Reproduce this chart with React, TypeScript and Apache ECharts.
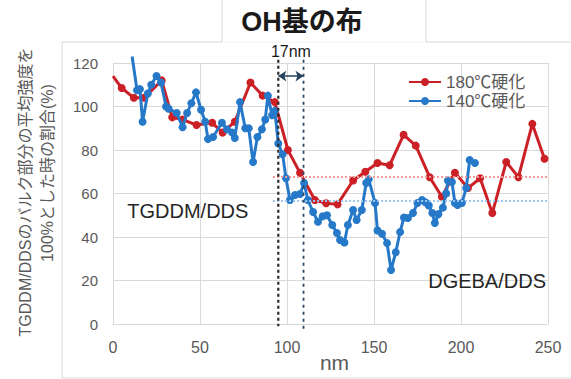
import React, { useEffect, useRef } from "react";
import * as echarts from "echarts";

const xTicks = [0, 50, 100, 150, 200, 250];
const yTicks = [0, 20, 40, 60, 80, 100, 120];

const seriesNames = ["180℃硬化", "140℃硬化"];

const red180: [number, number][] = [
  [0, 114], [5, 108.5], [12, 104], [18, 104], [28, 112], [34, 95], [40, 94],
  [48, 91.5], [57, 92.5], [63, 88], [70, 93], [79, 111], [86, 105], [93, 102],
  [100.5, 80], [107.5, 69.5], [116, 57], [122.5, 55.5], [129, 55], [138, 66],
  [145, 70], [152, 74], [159, 73], [167, 87], [174, 82], [182, 67.5], [189, 58.5],
  [196.5, 69.5], [204, 62.5], [211, 67], [218, 51], [226, 74.5], [233, 67.5],
  [241, 92], [248, 76],
];

const blue140: [number, number][] = [
  [11, 123], [13.8, 107.5], [15.5, 108], [17, 93], [20, 106], [22, 110], [25, 114],
  [27.6, 111], [30.5, 100], [32, 99], [36.6, 97], [40, 90.5], [42.6, 97], [45, 101.5],
  [47.7, 106.5], [50.6, 98.5], [53, 93], [54.6, 85], [57.5, 86], [62.6, 92.5],
  [65.5, 89.5], [68.5, 88], [70, 85.5], [73, 102], [76, 90], [78, 90], [80.5, 74.5],
  [83, 86], [85.6, 89.5], [87.5, 94], [89, 105], [91.4, 96], [93, 98], [95, 83],
  [97.5, 78], [99.4, 67], [101.7, 57], [104.6, 59.3], [107.5, 59.8], [109.8, 64.8],
  [112, 57], [115, 51.5], [117.8, 47], [120.5, 49.5], [123, 50], [126, 45.5],
  [128.7, 41.8], [130.5, 38.6], [133, 37.5], [135, 45.5], [138, 52.4], [140, 47.8],
  [143, 52.4], [145.5, 64.8], [147, 66.5], [150.6, 55.6], [152, 43], [154.6, 41.5],
  [157.5, 37.2], [159.8, 24.8], [162.5, 33], [165, 42.3], [167.2, 49], [169.5, 48.7],
  [172.4, 51], [175, 55.6], [177.6, 57], [179.5, 56], [181.5, 54.5], [183.5, 51],
  [185, 46.4], [187, 50.5], [189.6, 53.5], [191.5, 60], [192.5, 66], [194.8, 65.3],
  [196.5, 55.6], [198, 54.7], [200.5, 55.6], [203, 62.5], [205, 75.4], [208, 74],
];

const redMean = 67.5;
const blueMean = 56.7;
const meanStart = 92;
const boundaryA = 95;
const boundaryB = 109.5;
const arrowLevel = 114;

const titleText = "OH基の布";
const yLabel1 = "TGDDM/DDSのバルク部分の平均強度を";
const yLabel2 = "100%とした時の割合(%)";
const xName = "nm";
const widthLabel = "17nm";
const leftMaterial = "TGDDM/DDS";
const rightMaterial = "DGEBA/DDS";

export default function App() {
  const ref = useRef<HTMLDivElement>(null);
  useEffect(() => {
    const chart = echarts.init(ref.current!, null, { renderer: "svg" });
    const FONT = "'Liberation Sans', 'Noto Sans CJK JP', sans-serif";
    const RED = "#cc2027";
    const BLUE = "#2679c9";
    const GRAY = "#595959";
    const GRID = "#d9d9d9";

    chart.setOption({
      animation: false,
      backgroundColor: "#ffffff",
      textStyle: { fontFamily: FONT },
      grid: {
        left: 113,
        right: 23,
        top: 63,
        bottom: 55,
        containLabel: false,
        outerBoundsMode: "none",
      },
      legend: {
        orient: "vertical",
        left: 408,
        top: 73,
        padding: 0,
        itemGap: 1,
        itemWidth: 32,
        itemHeight: 10,
        data: seriesNames,
        textStyle: { fontSize: 17, color: GRAY, fontFamily: FONT, lineHeight: 18 },
      },
      xAxis: {
        type: "value",
        min: xTicks[0],
        max: xTicks[xTicks.length - 1],
        interval: 50,
        axisLine: { show: true, lineStyle: { color: GRID, width: 1 } },
        axisTick: { show: false },
        axisLabel: { fontSize: 16, color: GRAY, margin: 15, fontFamily: FONT },
        splitLine: { show: true, lineStyle: { color: GRID, width: 1 } },
      },
      yAxis: {
        type: "value",
        min: yTicks[0],
        max: yTicks[yTicks.length - 1],
        interval: 20,
        axisLine: { show: true, lineStyle: { color: GRID, width: 1 } },
        axisTick: { show: false },
        axisLabel: { fontSize: 15, color: GRAY, margin: 15, fontFamily: FONT },
        splitLine: { show: true, lineStyle: { color: GRID, width: 1 } },
      },
      series: [
        {
          name: seriesNames[0],
          type: "line",
          data: red180.map((d, i) => (i === 0 ? { value: d, symbol: "none" } : d)),
          symbol: "circle",
          symbolSize: 8,
          lineStyle: { color: RED, width: 3 },
          itemStyle: { color: RED },
          z: 2,
          markLine: {
            silent: true,
            symbol: "none",
            label: { show: false },
            lineStyle: { color: "#f19a9a", type: "dotted", width: 2 },
            data: [[{ coord: [meanStart, redMean] }, { coord: [xTicks[xTicks.length - 1], redMean] }]],
          },
        },
        {
          name: seriesNames[1],
          type: "line",
          clip: false,
          data: blue140.map((d, i) => (i === 0 ? { value: d, symbol: "none" } : d)),
          symbol: "circle",
          symbolSize: 8,
          lineStyle: { color: BLUE, width: 3 },
          itemStyle: { color: BLUE },
          z: 3,
          markLine: {
            silent: true,
            symbol: "none",
            label: { show: false },
            data: [
              [
                { coord: [meanStart, blueMean], lineStyle: { color: "#9cc7ec", type: "dotted", width: 2 } },
                { coord: [xTicks[xTicks.length - 1], blueMean] },
              ],
              [
                {
                  coord: [boundaryA, arrowLevel],
                  symbol: "arrow",
                  symbolSize: 8,
                  lineStyle: { color: "#24425a", type: "solid", width: 1.5 },
                },
                { coord: [boundaryB, arrowLevel], symbol: "arrow", symbolSize: 8 },
              ],
            ],
          },
        },
      ],
    });

    const px = (x: number, y: number) => chart.convertToPixel({ gridIndex: 0 }, [x, y]) as number[];
    const wPos = px((boundaryA + boundaryB) / 2, 125.5);
    const lPos = px(43, 52);
    const rPos = px(215, 20);
    const aTop = px(boundaryA, 121.5);
    const aBot = px(boundaryA, -1);
    const bTop = px(boundaryB, 121.5);
    const bBot = px(boundaryB, -2.5);
    const nameX = (px(xTicks[0], 0)[0] + px(xTicks[xTicks.length - 1], 0)[0]) / 2 + 4;

    chart.setOption({
      graphic: [
        {
          type: "rect",
          silent: true,
          z: -10,
          shape: { x: 62, y: 42, width: 520, height: 336 },
          style: { fill: "none", stroke: GRID, lineWidth: 1 },
        },
        {
          type: "line",
          silent: true,
          z: 5,
          shape: { x1: aTop[0], y1: aTop[1], x2: aBot[0], y2: aBot[1] },
          style: { stroke: "#2b2b2b", lineWidth: 2.2, lineDash: [3, 3] },
        },
        {
          type: "line",
          silent: true,
          z: 5,
          shape: { x1: bTop[0], y1: bTop[1], x2: bBot[0], y2: bBot[1] },
          style: { stroke: "#2a4660", lineWidth: 1.8, lineDash: [3, 4] },
        },
        {
          type: "rect",
          silent: true,
          z: 10,
          shape: { x: 222, y: -2, width: 204, height: 44.5 },
          style: { fill: "#ffffff", stroke: "none" },
        },
        {
          type: "polyline",
          silent: true,
          z: 11,
          shape: { points: [[222, 42], [222, -2]] },
          style: { stroke: GRID, lineWidth: 1, fill: "none" },
        },
        {
          type: "polyline",
          silent: true,
          z: 11,
          shape: { points: [[426, 42], [426, -2]] },
          style: { stroke: GRID, lineWidth: 1, fill: "none" },
        },
        {
          type: "text",
          z: 12,
          x: 302,
          y: 22,
          style: {
            text: titleText,
            font: `bold 27px ${FONT}`,
            fill: "#1a1a1a",
            textAlign: "center",
            textVerticalAlign: "middle",
          },
        },
        {
          type: "text",
          x: nameX,
          y: 362,
          style: {
            text: xName,
            font: `21px ${FONT}`,
            fill: GRAY,
            textAlign: "center",
            textVerticalAlign: "middle",
          },
        },
        {
          type: "text",
          x: 25,
          y: 192,
          rotation: Math.PI / 2,
          style: {
            text: yLabel1,
            font: `16px ${FONT}`,
            fill: GRAY,
            textAlign: "center",
            textVerticalAlign: "middle",
          },
        },
        {
          type: "text",
          x: 47,
          y: 173,
          rotation: Math.PI / 2,
          style: {
            text: yLabel2,
            font: `16px ${FONT}`,
            fill: GRAY,
            textAlign: "center",
            textVerticalAlign: "middle",
          },
        },
        {
          type: "text",
          z: 12,
          x: wPos[0],
          y: wPos[1],
          style: {
            text: widthLabel,
            font: `16px ${FONT}`,
            fill: "#1a1a1a",
            textAlign: "center",
            textVerticalAlign: "middle",
          },
        },
        {
          type: "text",
          x: lPos[0],
          y: lPos[1],
          style: {
            text: leftMaterial,
            font: `20px ${FONT}`,
            fill: "#262626",
            textAlign: "center",
            textVerticalAlign: "middle",
          },
        },
        {
          type: "text",
          x: rPos[0],
          y: rPos[1],
          style: {
            text: rightMaterial,
            font: `20px ${FONT}`,
            fill: "#262626",
            textAlign: "center",
            textVerticalAlign: "middle",
          },
        },
      ],
    });

    return () => chart.dispose();
  }, []);
  return (
    <div
      ref={ref}
      style={{ position: "fixed", left: 0, top: 0, width: 571, height: 379, background: "#fff" }}
    />
  );
}
